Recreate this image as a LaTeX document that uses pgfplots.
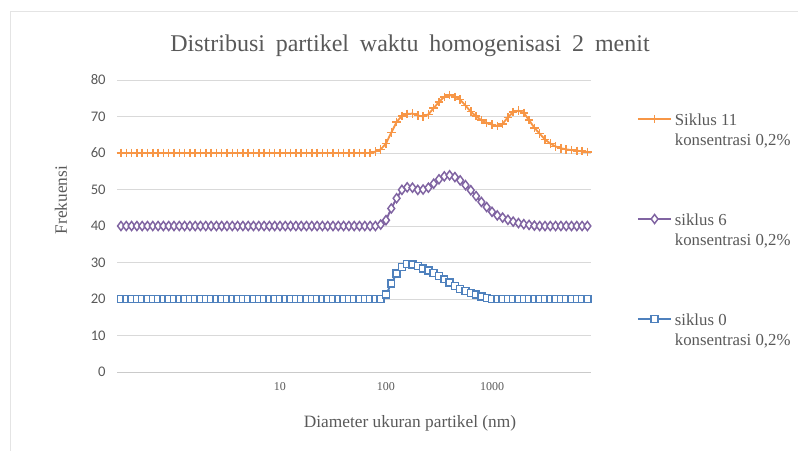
\documentclass[border=0pt]{standalone}
\usepackage{pgfplots}
\pgfplotsset{compat=1.18}
\usepackage{pgfplotstable}
\usepackage{fontspec}
\setmainfont{Liberation Serif}
\newfontfamily\calibri{Carlito}
\definecolor{cOr}{HTML}{F79646}
\definecolor{cPu}{HTML}{8064A2}
\definecolor{cBl}{HTML}{4F81BD}
\definecolor{cGrid}{HTML}{D9D9D9}
\definecolor{cTxt}{HTML}{595959}
\pgfplotstableread{
d s0 s6 s11
0.3162 20 40 60
0.3548 20 40 60
0.3981 20 40 60
0.4467 20 40 60
0.5012 20 40 60
0.5623 20 40 60
0.6310 20 40 60
0.7079 20 40 60
0.7943 20 40 60
0.8913 20 40 60
1 20 40 60
1.122 20 40 60
1.259 20 40 60
1.413 20 40 60
1.585 20 40 60
1.778 20 40 60
1.995 20 40 60
2.239 20 40 60
2.512 20 40 60
2.818 20 40 60
3.162 20 40 60
3.548 20 40 60
3.981 20 40 60
4.467 20 40 60
5.012 20 40 60
5.623 20 40 60
6.310 20 40 60
7.079 20 40 60
7.943 20 40 60
8.913 20 40 60
10 20 40 60
11.22 20 40 60
12.59 20 40 60
14.13 20 40 60
15.85 20 40 60
17.78 20 40 60
19.95 20 40 60
22.39 20 40 60
25.12 20 40 60
28.18 20 40 60
31.62 20 40 60
35.48 20 40 60
39.81 20 40 60
44.67 20 40 60
50.12 20 40 60
56.23 20 40 60
63.10 20 40 60
70.79 20 40 60
79.43 20 40 60.4
89.13 20 40.4 61.0
100 21.2 41.6 62.6
112.2 24.2 44.8 65.6
125.9 27.0 47.6 68.5
141.3 28.8 49.9 70.2
158.5 29.6 50.6 70.7
177.8 29.5 50.5 70.8
199.5 29.0 49.9 70.3
223.9 28.4 50.0 70.0
251.2 27.8 50.5 70.6
281.8 27.1 51.6 72.3
316.2 26.3 52.8 74.0
354.8 25.4 53.6 75.4
398.1 24.5 53.9 75.9
446.7 23.6 53.4 75.4
501.2 22.8 52.5 74.6
562.3 22.2 51.2 73.0
631.0 21.7 49.8 71.3
707.9 21.2 48.2 70.1
794.3 20.7 46.6 69.0
891.3 20.3 45.2 68.2
1000 20.0 43.9 67.8
1122 20 42.9 67.4
1259 20 42.3 68.0
1413 20 41.7 69.8
1585 20 41.2 71.2
1778 20 40.8 71.6
1995 20 40.5 71.0
2239 20 40.3 69.0
2512 20 40.1 66.9
2818 20 40 65.3
3162 20 40 63.7
3548 20 40 62.6
3981 20 40 61.8
4467 20 40 61.3
5012 20 40 61.0
5623 20 40 60.8
6310 20 40 60.6
7079 20 40 60.5
7943 20 40 60.3
}\datatable
\begin{document}
\begin{tikzpicture}
\useasboundingbox (0,0) rectangle (598.5pt,338.25pt);
\draw[cGrid!70] (7.5pt,0pt) -- (7.5pt,330pt) -- (598.5pt,330pt);
\begin{axis}[
  at={(87.75pt,59.25pt)}, anchor=south west,
  scale only axis, width=355.5pt, height=219pt,
  xmode=log, xmin=0.29, xmax=8590,
  ymin=0, ymax=80, ytick={0,10,...,80},
  xtick={10,100,1000}, xticklabels={10,100,1000},
  xminorticks=false,
  major tick length=0pt, minor tick length=0pt,
  axis x line=bottom, axis y line=left,
  x axis line style={draw=cGrid!140,-},
  y axis line style={draw=none},
  ymajorgrids, grid style={cGrid, line width=0.7pt},
  /pgf/number format/assume math mode=true,
  yticklabel style={font=\calibri\fontsize{11}{13}\selectfont, text=cTxt, xshift=-5pt},
  xticklabel style={font=\fontsize{9}{11}\selectfont, text=cTxt, yshift=-4pt},
  legend cell align=left,
  legend style={at={(1.088,0.913)}, anchor=north west, draw=none, fill=none,
     font=\fontsize{12.6}{15}\selectfont, text=cTxt, row sep=59pt,
     /tikz/every even column/.append style={column sep=1pt}},
  legend image code/.code={\draw[mark repeat=2,mark phase=2] plot coordinates {(0pt,0pt) (12.5pt,0pt) (25pt,0pt)};},
  clip=false,
]
\addplot[cOr, line width=1.4pt, mark=+, mark size=3.2pt, mark options={line width=1.1pt}] table[x=d,y=s11]{\datatable};
\addlegendentry{\begin{tabular}[t]{@{}l@{}}Siklus 11\\konsentrasi 0,2\%\end{tabular}}
\addplot[cPu, line width=1.4pt, mark=diamond*, mark size=3.4pt, mark options={fill=white, line width=1.1pt}] table[x=d,y=s6]{\datatable};
\addlegendentry{\begin{tabular}[t]{@{}l@{}}siklus 6\\konsentrasi 0,2\%\end{tabular}}
\addplot[cBl, line width=1.4pt, mark=square*, mark size=2.6pt, mark options={fill=white, line width=1.1pt}] table[x=d,y=s0]{\datatable};
\addlegendentry{\begin{tabular}[t]{@{}l@{}}siklus 0\\konsentrasi 0,2\%\end{tabular}}
\end{axis}
\node[text=cTxt, font=\fontsize{18}{21}\selectfont] at (307.5pt,304pt) {Distribusi\hspace{0.2em} partikel\hspace{0.2em} waktu\hspace{0.2em} homogenisasi\hspace{0.2em} 2\hspace{0.2em} menit};
\node[text=cTxt, font=\fontsize{13}{15}\selectfont] at (307.5pt,21pt) {Diameter ukuran partikel (nm)};
\node[text=cTxt, font=\fontsize{13}{15}\selectfont, rotate=90] at (45.75pt,188.25pt) {Frekuensi};
\end{tikzpicture}
\end{document}
